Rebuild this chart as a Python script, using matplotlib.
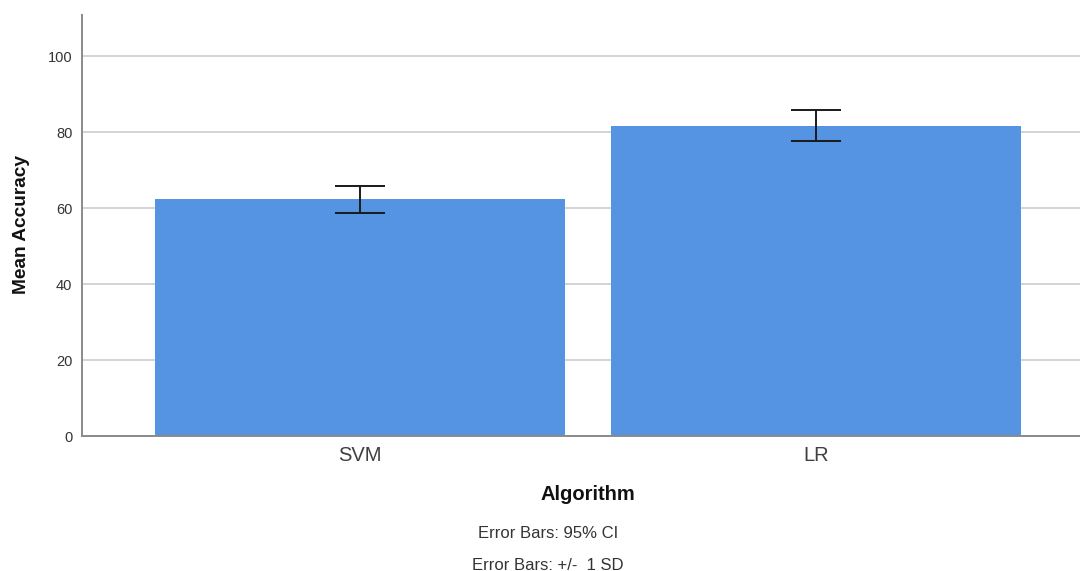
import numpy as np
import matplotlib.pyplot as plt

# values
algorithms = ["SVM", "LR"]
mean_acc = [62.3, 81.7]
ci_low = [58.8, 77.7]
ci_high = [65.9, 85.8]
y_ticks = [0, 20, 40, 60, 80, 100]

bar_color = "#5494e2"
grid_color = "#d4d4d4"
text_color = "#333333"

plt.rcParams["font.family"] = ["Liberation Sans", "DejaVu Sans"]

fig = plt.figure(figsize=(10.8, 5.71), dpi=100)
ax = fig.add_axes([82 / 1080, 1 - 436 / 571, 1 - 82 / 1080, (436 - 15) / 571])

x = np.arange(len(algorithms))
means = np.array(mean_acc)
yerr = np.array([means - np.array(ci_low), np.array(ci_high) - means])

ax.bar(x, means, width=0.9, color=bar_color, zorder=2)
ax.errorbar(x, means, yerr=yerr, fmt="none", ecolor="#1a1a1a",
            elinewidth=1.4, capsize=18, capthick=1.4, zorder=3)

ax.set_xlim(-0.61, 1.58)
ax.set_ylim(0, 110.8)
ax.set_yticks(y_ticks)
ax.set_yticklabels([str(v) for v in y_ticks], fontsize=10.5, color=text_color)
ax.set_xticks(x)
ax.set_xticklabels(algorithms, fontsize=14.5, color="#404040")
ax.tick_params(axis="y", length=0, pad=7)
ax.tick_params(axis="x", length=0, pad=7)

ax.grid(axis="y", color=grid_color, linewidth=1.4, zorder=0)
ax.set_axisbelow(True)
for side in ["top", "right"]:
    ax.spines[side].set_visible(False)
ax.spines["left"].set_color("#8a8a8a")
ax.spines["left"].set_linewidth(1.4)
ax.spines["bottom"].set_color("#8a8a8a")
ax.spines["bottom"].set_linewidth(1.4)

fig.text(22 / 1080, 1 - 225 / 571, "Mean Accuracy", rotation=90, fontsize=13.8,
         fontweight="bold", ha="center", va="center", color="#111111")
fig.text(588 / 1080, 1 - 494 / 571, "Algorithm", fontsize=14.5,
         fontweight="bold", ha="center", va="center", color="#111111")
fig.text(548 / 1080, 1 - 533 / 571, "Error Bars: 95% CI", fontsize=12,
         ha="center", va="center", color=text_color)
fig.text(548 / 1080, 1 - 565 / 571, "Error Bars: +/-  1 SD", fontsize=12,
         ha="center", va="center", color=text_color)

fig.savefig("out.png", dpi=100)
